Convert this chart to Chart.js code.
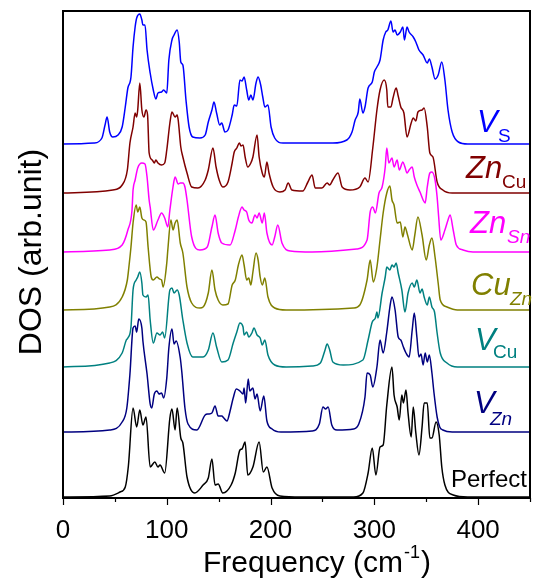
<!DOCTYPE html>
<html>
<head>
<meta charset="utf-8">
<script src="https://cdn.jsdelivr.net/npm/chart.js@4/dist/chart.umd.min.js"></script>
<style>
  html, body { margin: 0; padding: 0; background: #fff; }
  #wrap { width: 536px; height: 578px; position: relative; }
</style>
</head>
<body>
<div id="wrap"><canvas id="dosChart"></canvas></div>
<script>
// [frequency (cm-1), DOS height], one curve per defect
const perfect = [[0,0],[45,1],[55,5],[60,10],[63,31],[67.5,89],[71,70],[74,87],[77,72],[80,80],[84,30],[88.5,35],[91.5,30],[93.5,32],[98,24],[103,79],[105,88],[108,67],[110,89],[113.5,59],[115.5,54],[119.5,20],[127,4],[135,12],[140,19],[143.5,38],[146.5,12],[149.5,13],[154,4],[162,12],[166,24],[170.5,47],[172.5,48],[175.5,55],[178,22],[183,30],[189,55],[193,25],[196.5,30],[201.5,9],[209,1],[230,0],[280,0],[289,4],[294,24],[298,49],[301.5,22],[305.5,50],[308.5,52],[312,92],[317,130],[319,102],[322,90],[324,77],[326.5,102],[328,94],[330.5,107],[332.5,84],[335.5,60],[337.5,90],[340,64],[343,42],[346,70],[348,94],[351,94],[353.5,59],[355.5,59],[359.5,75],[362.5,62],[365,30],[368,12],[376,2],[390,0],[450,0]];

const vZn = [[0,0],[45,2],[57,10],[61.5,24],[64.5,58],[67.5,104],[69.5,106],[71,100],[73,113],[76,104],[77,91],[81,58],[84,28],[85.5,24],[88,38],[90.5,41],[92.5,38],[95,39],[97,34],[100,54],[102,84],[105,103],[107,88],[109,91],[113,74],[114.5,60],[117.5,24],[120.5,8],[129,2],[137,17],[140,18],[143.5,19],[146.5,26],[149.5,16],[153,16],[155,14],[158,11],[161,21],[164,34],[167,43],[170.5,41],[173.5,38],[174.5,44],[176,29],[178.5,53],[180,41],[183,44],[185,33],[187,38],[190,21],[193.5,36],[196.5,11],[201.5,3],[210,0],[240,1],[247,8],[250.5,25],[253,23],[255.5,25],[259,7],[264,2],[280,3],[285,8],[291,35],[293,59],[296,57],[298.5,45],[302.5,65],[305.5,92],[308.5,79],[312,100],[315,125],[317,135],[320,122],[323,95],[325.5,92],[328,85],[330.5,79],[333.5,75],[336.5,102],[338.5,119],[341,95],[343,75],[345,78],[347,67],[349,79],[351,70],[353,77],[355.5,59],[357.5,39],[360.5,15],[363,5],[366,2],[375,0],[450,0]];

const vCu = [[0,0],[45,4],[57,14],[61,27],[62.5,29],[65.5,40],[67.5,77],[70.5,87],[72,90],[74,95],[76,84],[77,72],[80,70],[82,72],[84,47],[87,24],[90.5,34],[93.5,32],[96,35],[98,29],[103,77],[105,79],[107,74],[110,77],[112,72],[115.5,47],[119.5,24],[125,10],[135,10],[140,17],[144.5,34],[148,20],[153,5],[159,7],[164,24],[167.5,35],[170.5,44],[173.5,40],[174.5,32],[177,35],[179,30],[182,34],[184,39],[187,32],[190,29],[192,22],[194.5,27],[197.5,12],[204,2],[215,0],[240,1],[248,4],[252.5,17],[254.5,23],[257,17],[260,5],[270,2],[289,7],[294,27],[298,45],[301,49],[302.5,55],[303.5,49],[307.5,74],[310.5,90],[312,100],[315,97],[317,102],[319,100],[321,104],[323,94],[326.5,77],[329.5,55],[332.5,74],[336.5,84],[338.5,80],[341,87],[344,74],[346,78],[348,70],[351,62],[353,70],[355.5,60],[358,55],[360.5,34],[363.5,14],[370,4],[380,0],[450,0]];

const cuZn = [[0,0],[45,3],[57,13],[62,30],[63.5,43],[65.5,63],[67.5,87],[70.5,105],[72,98],[74,103],[76,92],[78,90],[80,88],[82,63],[85,33],[87,30],[90.5,33],[93,31],[95,30],[96.5,23],[100,47],[101,60],[104,90],[106,80],[108,87],[110,90],[113,67],[115.5,57],[119.5,23],[124,7],[132,2],[135,3],[140,17],[143.5,40],[146.5,20],[149.5,10],[154,5],[159,6],[163,25],[166,30],[169,45],[172.5,55],[174.5,45],[177,30],[179,32],[181,25],[183,38],[186,57],[188,50],[190,33],[192,25],[194.5,32],[197.5,13],[204,2],[215,0],[280,2],[286,5],[293,30],[296,50],[299,28],[302.5,43],[305.5,70],[308.5,97],[312,117],[315,124],[317,110],[319,105],[322,87],[325,88],[327.5,73],[329.5,83],[332,75],[336.5,60],[339,75],[342,93],[346,75],[350,50],[353,65],[355.5,72],[358.5,53],[361.5,27],[363.5,10],[370,3],[380,0],[450,0]];

const znSn = [[0,0],[45,2],[57,7],[62.5,22],[66.5,42],[67.5,62],[69.5,72],[72,84],[76,89],[79,88],[81,75],[83,52],[84,45],[87,22],[91.5,32],[95,39],[98,34],[101,25],[103,42],[106,65],[108,75],[111,68],[113,69],[115.5,69],[117.5,65],[119.5,52],[124,15],[132,2],[139,5],[143.5,25],[146.5,37],[149.5,19],[153,9],[161,7],[166,22],[169,35],[172.5,45],[174.5,42],[177,40],[179,32],[182,29],[185,37],[187,34],[189,39],[192,29],[194,39],[196.5,19],[201.5,7],[204,15],[207,27],[211,9],[219,1],[240,0],[283,3],[293,12],[296,40],[298.5,45],[301,39],[304.5,59],[307.5,65],[310.5,85],[312,104],[314,89],[317,94],[319,85],[322,92],[324,82],[327.5,90],[329.5,85],[331.5,79],[333.5,82],[336.5,85],[338.5,75],[341,67],[344,60],[347,52],[349,49],[351,65],[353.5,79],[355.5,80],[358.5,72],[360.5,55],[362,35],[364,12],[368,22],[371,32],[373,37],[376,22],[379,7],[385.5,2],[395,0],[450,0]];

const znCu = [[0,0],[48,3],[57,8],[62,23],[64.5,50],[67.5,66],[69.5,80],[71,76],[72,83],[74,110],[76,83],[78,76],[80,83],[81.5,78],[83,40],[86,33],[88,30],[89.5,33],[91.5,30],[95,28],[98,30],[100,43],[103,70],[105,81],[108,76],[110,78],[111,73],[113.5,46],[115.5,36],[119.5,20],[124,6],[130,5],[137,13],[140,23],[144.5,45],[147.5,26],[150.5,13],[154,6],[159,11],[163,30],[165,41],[167.5,45],[170,50],[171.5,47],[173.5,48],[175.5,36],[178,26],[181,30],[183,36],[187,58],[189,36],[192,20],[194,16],[196.5,31],[198.5,20],[202.5,6],[209,1],[214,3],[217,10],[220.5,3],[231,2],[236,11],[240,18],[243,5],[249.5,5],[254.5,10],[257,8],[260,13],[265,20],[269,6],[276.5,3],[286,6],[291,15],[294,11],[298.5,45],[302.5,83],[305.5,103],[309.5,113],[312,103],[313,86],[316,86],[318,95],[321,105],[323,97],[325.5,86],[328.5,80],[331.5,56],[335.5,70],[337.5,75],[340,72],[342,81],[346,83],[348,85],[351,66],[353.5,40],[356.5,36],[360.5,11],[366,3],[375,0],[450,0]];

const vS = [[0,0],[30,1],[37.5,6],[40.5,19],[42.5,27],[45,12],[48,7],[53,9],[57,17],[60,37],[62.5,56],[65.5,67],[67.5,97],[69.5,117],[71,126],[74,130],[76,124],[77,119],[79,119],[81,94],[84,71],[87,54],[89.5,45],[91.5,51],[95,52],[97,54],[100,51],[102,84],[105,104],[107,109],[110,114],[112,102],[113.5,82],[115.5,79],[118.5,44],[121.5,17],[125,7],[132,6],[137,9],[140,22],[143.5,34],[145.5,42],[148,31],[151,19],[153,21],[156,12],[159,14],[163,29],[165,39],[167.5,38],[170.5,64],[172.5,63],[174.5,67],[177,54],[179,44],[181,49],[183,44],[186,61],[188,67],[190.5,59],[192.5,47],[194.5,37],[197.5,39],[200.5,17],[204,6],[212,1],[260,1],[273.5,4],[278.5,12],[281.5,24],[284.5,32],[286,45],[289,31],[291,37],[294,56],[298,62],[300,72],[302.5,77],[305.5,84],[308.5,104],[311,112],[313,114],[316,123],[318,112],[320,114],[322,109],[325,112],[327.5,117],[329,104],[331.5,117],[333.5,112],[337.5,107],[340,102],[343,94],[347,89],[351,81],[353,85],[355.5,77],[358.5,65],[361.5,69],[365,82],[368,64],[371,34],[375,12],[381,2],[390,0],[450,0]];

// vertical offset of each curve's baseline
const curves = [perfect, vZn, vCu, cuZn, znSn, znCu, vS];
const offsets = [1, 66, 131, 188, 246, 305, 354];
const colors = ['#000000', '#000080', '#008080', '#808000', '#ff00ff', '#800000', '#0000ff'];
const xTicks = [0, 100, 200, 300, 400];

const FONT = '"Liberation Sans", Arial, sans-serif';

const datasets = curves.map((c, i) => ({
    data: c.map(p => ({ x: p[0], y: p[1] + offsets[i] })),
    borderColor: colors[i],
    borderWidth: 1.5,
    pointRadius: 0,
    fill: false,
    cubicInterpolationMode: 'monotone'
}));

// curve labels: main text, subscript, sub italic?, position
const labels = [
    { main: 'V', sub: 'S', subItalic: false, x: 477, y: 132, sx: 498, sy: 142, color: '#0000ff' },
    { main: 'Zn', sub: 'Cu', subItalic: false, x: 466, y: 178, sx: 502, sy: 188, color: '#800000' },
    { main: 'Zn', sub: 'Sn', subItalic: true, x: 470, y: 233, sx: 507, sy: 243, color: '#ff00ff' },
    { main: 'Cu', sub: 'Zn', subItalic: true, x: 471, y: 295, sx: 510, sy: 305, color: '#808000' },
    { main: 'V', sub: 'Cu', subItalic: false, x: 475, y: 350, sx: 493, sy: 358, color: '#008080' },
    { main: 'V', sub: 'Zn', subItalic: true, x: 474, y: 413, sx: 490, sy: 425, color: '#000080' }
];

const decor = {
    id: 'decor',
    afterDraw(chart) {
        const { ctx, chartArea: a, scales } = chart;
        ctx.save();
        // frame
        ctx.strokeStyle = '#000';
        ctx.lineWidth = 2;
        ctx.strokeRect(a.left, a.top, a.right - a.left, a.bottom - a.top);
        // bottom ticks, major every 100, minor every 50
        ctx.lineWidth = 1.2;
        for (let v = 0; v <= 450; v += 50) {
            const px = Math.round(scales.x.getPixelForValue(v)) + 0.5;
            const len = v % 100 === 0 ? 7 : 4;
            ctx.beginPath();
            ctx.moveTo(px, a.bottom);
            ctx.lineTo(px, a.bottom + len);
            ctx.stroke();
        }
        // axis titles
        ctx.fillStyle = '#000';
        ctx.textBaseline = 'alphabetic';
        ctx.font = '30px ' + FONT;
        let x = 203;
        const y = 572;
        ctx.fillText('Frequency (cm', x, y);
        x += ctx.measureText('Frequency (cm').width;
        ctx.font = '18px ' + FONT;
        ctx.fillText('-1', x + 1, y - 14);
        x += ctx.measureText('-1').width + 2;
        ctx.font = '30px ' + FONT;
        ctx.fillText(')', x, y);

        ctx.save();
        ctx.translate(41, 252);
        ctx.rotate(-Math.PI / 2);
        ctx.textAlign = 'center';
        ctx.font = '32px ' + FONT;
        ctx.fillText('DOS (arb.unit)', 0, 0);
        ctx.restore();

        // curve labels
        labels.forEach(l => {
            ctx.fillStyle = l.color;
            ctx.font = 'italic 31px ' + FONT;
            ctx.fillText(l.main, l.x, l.y);
            ctx.font = (l.subItalic ? 'italic ' : '') + '19px ' + FONT;
            ctx.fillText(l.sub, l.sx, l.sy);
        });
        ctx.fillStyle = '#000';
        ctx.font = '24px ' + FONT;
        ctx.fillText('Perfect', 451, 487);
        ctx.restore();
    }
};

new Chart(document.getElementById('dosChart'), {
    type: 'line',
    data: { datasets },
    options: {
        responsive: true,
        maintainAspectRatio: false,
        animation: false,
        layout: { padding: { left: 63, right: 6, top: 11, bottom: 34 } },
        plugins: {
            legend: { display: false },
            tooltip: { enabled: false }
        },
        scales: {
            x: {
                type: 'linear',
                min: 0,
                max: 450,
                grid: { display: false },
                border: { display: false },
                afterFit(scale) {
                    scale.height = 46;
                    scale.paddingLeft = 0;
                    scale.paddingRight = 0;
                },
                ticks: {
                    stepSize: 50,
                    autoSkip: false,
                    maxRotation: 0,
                    padding: 9,
                    color: '#000',
                    font: { family: FONT, size: 26 },
                    callback: v => (xTicks.includes(v) ? String(v) : '')
                }
            },
            y: {
                display: false,
                min: 0,
                max: 487
            }
        }
    },
    plugins: [decor]
});
</script>
</body>
</html>
